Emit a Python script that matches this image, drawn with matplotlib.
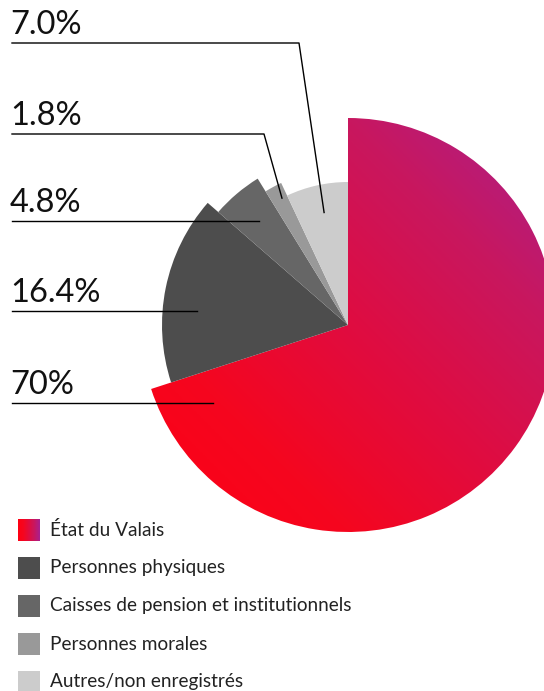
import numpy as np
import matplotlib.pyplot as plt
from matplotlib.patches import Wedge, Rectangle
from matplotlib.colors import LinearSegmentedColormap

plt.rcParams['font.family'] = ['Lato', 'DejaVu Sans']

labels = ["État du Valais", "Personnes physiques", "Caisses de pension et institutionnels",
          "Personnes morales", "Autres/non enregistrés"]
values = [70.0, 16.4, 4.8, 1.8, 7.0]
pct_text = ["70%", "16.4%", "4.8%", "1.8%", "7.0%"]

# styling / layout
colors = [None, '#4d4d4d', '#666666', '#999999', '#cccccc']
radii = [207, 186, 172, 157, 143]
grad = LinearSegmentedColormap.from_list('vs', ['#ff0013', '#f5061f', '#e00c40', '#c8175f', '#a8208f'])
W, H = 544, 691
cx, cy = 348, H - 325
label_y = [403, 311, 221, 134, 43]           # leader line heights (px from top)
anchor = [(210, 156), (175, 152), (130.5, 137), (117.5, 143), (102, 115)]  # (angle, r)
bend_x = [None, None, None, 264, 299]

fig = plt.figure(figsize=(W / 100, H / 100), dpi=100)
ax = fig.add_axes([0, 0, 1, 1])
ax.set_xlim(0, W)
ax.set_ylim(0, H)
ax.set_aspect('equal')
ax.axis('off')

start = 0.0
for i, v in enumerate(values):
    t2 = 90 - start * 3.6
    t1 = 90 - (start + v) * 3.6
    start += v
    if i == 0:
        w = Wedge((cx, cy), radii[i], t1, t2, facecolor='none', edgecolor='none')
        ax.add_patch(w)
        xx, yy = np.meshgrid(np.linspace(0, 1, 300), np.linspace(0, 1, 300))
        g = (xx + yy) / 2
        im = ax.imshow(g, cmap=grad, extent=(cx - radii[i], cx + radii[i], cy - radii[i], cy + radii[i]),
                       origin='lower', interpolation='bilinear', zorder=1)
        im.set_clip_path(w)
    else:
        ax.add_patch(Wedge((cx, cy), radii[i], t1, t2, facecolor=colors[i], edgecolor='none', zorder=1))

# leader lines and percentage labels
for i in range(len(values)):
    a, r = anchor[i]
    ex = cx + r * np.cos(np.radians(a))
    ey = cy + r * np.sin(np.radians(a))
    ly = H - label_y[i]
    if bend_x[i] is None:
        ax.plot([12, ex], [ly, ly], color='black', lw=1, zorder=3)
    else:
        ax.plot([12, bend_x[i], ex], [ly, ly, ey], color='black', lw=1, zorder=3)
    ax.text(10, ly + 9, pct_text[i], fontsize=23.5, fontweight='normal', color='#111111',
            ha='left', va='baseline', zorder=3)

# legend
for i, lab in enumerate(labels):
    yc = H - (530 + 38 * i)
    if i == 0:
        sq = Rectangle((18, yc - 11), 22, 22, facecolor='none', edgecolor='none')
        ax.add_patch(sq)
        im2 = ax.imshow(np.linspace(0, 1, 50)[None, :], cmap=grad, extent=(18, 40, yc - 11, yc + 11),
                        aspect='auto', interpolation='bilinear', zorder=2)
        im2.set_clip_path(sq)
    else:
        ax.add_patch(Rectangle((18, yc - 11), 22, 22, facecolor=colors[i], edgecolor='none'))
    ax.text(50, yc, lab, fontsize=13.7, va='center', ha='left', color='#222222')

ax.set_xlim(0, W)
ax.set_ylim(0, H)
fig.savefig('out.png', dpi=100)
